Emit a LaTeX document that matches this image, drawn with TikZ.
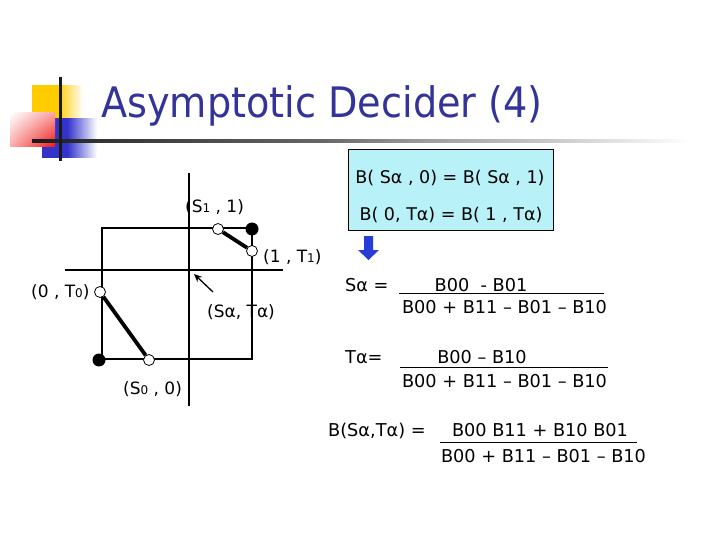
\documentclass[tikz,border=0pt]{standalone}
\usepackage{graphicx}
\usepackage{fontspec}
\setmainfont{DejaVu Sans}
\usetikzlibrary{arrows.meta,shadings}
\definecolor{titleblue}{RGB}{51,51,153}
\definecolor{boxcyan}{RGB}{185,241,248}
\definecolor{arrowblue}{RGB}{40,60,215}
\definecolor{decoyellow}{RGB}{255,204,0}
\definecolor{decoblue}{RGB}{51,51,204}
\definecolor{decored}{RGB}{240,20,20}
\pgfdeclarehorizontalshading{barshade}{100bp}{color(0bp)=(black!90); color(25bp)=(black!90); color(30bp)=(black!80); color(47bp)=(black!60); color(55bp)=(black!38); color(65bp)=(black!20); color(75bp)=(white); color(100bp)=(white)}
\pgfdeclarehorizontalshading{yellowshade}{100bp}{color(0bp)=(decoyellow); color(25bp)=(decoyellow); color(50bp)=(decoyellow); color(75bp)=(white); color(100bp)=(white)}
\pgfdeclarehorizontalshading{blueshade}{100bp}{color(0bp)=(decoblue); color(25bp)=(decoblue); color(48bp)=(decoblue); color(75bp)=(white); color(100bp)=(white)}
\newcommand{\smalldig}[1]{{\fontsize{12}{12}\selectfont #1}}
\tikzset{
  gridline/.style={line width=1.1pt, draw=black},
  thickline/.style={line width=3.8pt, draw=black},
  opendot/.style={circle, draw=black, fill=white, line width=0.8pt, minimum size=11pt, inner sep=0pt},
  filldot/.style={circle, fill=black, minimum size=13pt, inner sep=0pt},
  lbl/.style={anchor=base west, inner sep=0pt, font=\fontsize{17}{20}\selectfont},
  boxtxt/.style={anchor=base, inner sep=0pt, font=\fontsize{17.5}{20}\selectfont},
  frm/.style={anchor=base, inner sep=0pt, font=\fontsize{17.7}{20}\selectfont},
  frmlhs/.style={anchor=base west, inner sep=0pt, font=\fontsize{17.7}{20}\selectfont},
  fracline/.style={line width=1pt, draw=black},
}
\begin{document}
\begin{tikzpicture}[x=1pt, y=-1pt]
\useasboundingbox (0,0) rectangle (720,540);
\fill[white] (0,0) rectangle (720,540);

% decoration
\shade[shading=yellowshade] (32,86) rectangle (83,118);
\shade[shading=blueshade] (42,119) rectangle (97,158);
\shade[lower left=decored!35, lower right=decored, upper left=white, upper right=decored!40] (10,113) rectangle (55,147);
\shade[shading=barshade] (32,139.5) rectangle (690,142.5);
\fill[black!90] (58.5,77) rectangle (61.5,161);

% title
\node[anchor=base west, inner sep=0pt, text=titleblue, font=\fontsize{42}{42}\selectfont] (title) at (101,118) {\scalebox{0.91}[1]{Asymptotic Decider (4)}};

% grid
\coordinate (sqTL) at (102,228);
\coordinate (sqTR) at (252,228);
\coordinate (sqBR) at (252,359);
\coordinate (sqBL) at (102,359);
\coordinate (vTop) at (189,173);
\coordinate (vBot) at (189,406);
\coordinate (hL) at (65,270);
\coordinate (hR) at (283,270);
\draw[gridline] (sqTL) -- (sqTR) -- (sqBR) -- (sqBL) -- cycle;
\draw[gridline] (vTop) -- (vBot);
\draw[gridline] (hL) -- (hR);

% dots
\node[opendot] (s1) at (218,229) {};
\node[filldot] (c11) at (252,229) {};
\node[opendot] (t1) at (252,251) {};
\node[opendot] (t0) at (100,292) {};
\node[filldot] (c00) at (99,360) {};
\node[opendot] (s0) at (149,360) {};
\draw[thickline] (s1) -- (t1);
\draw[thickline] (t0) -- (s0);

% saddle arrow
\coordinate (arrTail) at (213,292);
\coordinate (arrHead) at (194,274);
\draw[line width=1.3pt, -{Stealth[length=8pt, width=7pt]}] (arrTail) -- (arrHead);

% labels
\node[lbl] (ls1) at (185,213) {(S\smalldig{1} , 1)};
\node[lbl] (lt1) at (263,262) {(1 , T\smalldig{1})};
\node[lbl] (lt0) at (31,297) {(0 , T\smalldig{0})};
\node[lbl] (lsa) at (207,317) {(Sα, Tα)};
\node[lbl] (ls0) at (123,394) {(S\smalldig{0} , 0)};

% box
\draw[fill=boxcyan, draw=black, line width=1pt] (348,150) rectangle (553,231);
\node[boxtxt] (b1) at (450,184) {B( Sα , 0) = B( Sα , 1)};
\node[boxtxt] (b2) at (451,221) {B( 0, Tα) = B( 1 , Tα)};

% blue down arrow
\fill[arrowblue] (364,236) -- (373,236) -- (373,250) -- (379,250) -- (368.5,260) -- (358,250) -- (364,250) -- cycle;

% formulas
\node[frmlhs] (sa) at (345,291) {Sα =};
\node[frm] (n1) at (481,291) {B00~\ - B01};
\coordinate (f1a) at (399,293);
\coordinate (f1b) at (604,293);
\draw[fracline] (f1a) -- (f1b);
\node[frm] (d1) at (504.5,313) {B00 + B11 – B01 – B10};

\node[frmlhs] (ta) at (345,363) {Tα=};
\node[frm] (n2) at (482,363) {B00 – B10};
\coordinate (f2a) at (400,367);
\coordinate (f2b) at (608,367);
\draw[fracline] (f2a) -- (f2b);
\node[frm] (d2) at (504.5,387) {B00 + B11 – B01 – B10};

\node[frmlhs] (bst) at (328,436) {B(Sα,Tα) =};
\node[frm] (n3) at (540,436) {B00 B11 + B10 B01};
\coordinate (f3a) at (440,442);
\coordinate (f3b) at (637,442);
\draw[fracline] (f3a) -- (f3b);
\node[frm] (d3) at (543.5,462) {B00 + B11 – B01 – B10};
\end{tikzpicture}
\end{document}
